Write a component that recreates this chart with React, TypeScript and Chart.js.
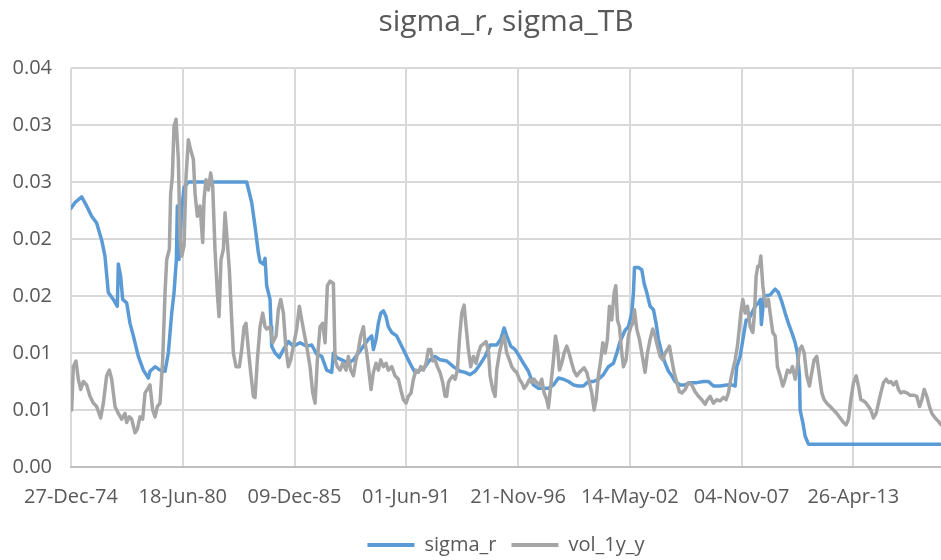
import React, { useEffect, useRef } from 'react';
import { Chart, registerables } from 'chart.js';

Chart.register(...registerables);

// x values are days since 27-Dec-1974
const xTickDays = [0, 2000, 4000, 6000, 8000, 10000, 12000, 14000];
const xTickLabels = ['27-Dec-74', '18-Jun-80', '09-Dec-85', '01-Jun-91', '21-Nov-96', '14-May-02', '04-Nov-07', '26-Apr-13'];
const yTickValues = [0, 0.005, 0.01, 0.015, 0.02, 0.025, 0.03, 0.035];
const yTickLabels = ['0.00', '0.01', '0.01', '0.02', '0.02', '0.03', '0.03', '0.04'];
const X_MAX_DAY = 15570;
const seriesLabels = ['sigma_r', 'vol_1y_y'];
const chartTitle = 'sigma_r, sigma_TB';

// sigma_r: [day, value]
const sigmaR: [number, number][] = [
  [0, 0.0227], [72, 0.0232], [191, 0.0237], [280, 0.0229], [370, 0.0220], [459, 0.0214], [549, 0.0199], [608, 0.0185], [668, 0.0153], [758, 0.0147],
  [829, 0.0141], [847, 0.0178], [889, 0.0167], [925, 0.0147], [996, 0.0144], [1056, 0.0126], [1116, 0.0115], [1205, 0.0097], [1295, 0.0085], [1384, 0.0078],
  [1414, 0.0084], [1504, 0.0088], [1593, 0.0085], [1683, 0.0084], [1742, 0.0100], [1802, 0.0135], [1844, 0.0153], [1886, 0.0182], [1903, 0.0229], [1933, 0.0182],
  [1981, 0.0226], [2023, 0.0245], [2100, 0.0250], [3144, 0.0250], [3234, 0.0232], [3294, 0.0211], [3353, 0.0188], [3383, 0.0180], [3443, 0.0178], [3473, 0.0183],
  [3502, 0.0159], [3562, 0.0147], [3580, 0.0123], [3592, 0.0106], [3652, 0.0100], [3729, 0.0096], [3801, 0.0103], [3890, 0.0110], [3980, 0.0106], [4099, 0.0109],
  [4218, 0.0106], [4308, 0.0107], [4397, 0.0099], [4487, 0.0097], [4576, 0.0085], [4666, 0.0083], [4696, 0.0100], [4755, 0.0096], [4845, 0.0094], [4964, 0.0091],
  [5054, 0.0094], [5143, 0.0100], [5233, 0.0106], [5322, 0.0112], [5382, 0.0115], [5412, 0.0103], [5459, 0.0112], [5501, 0.0126], [5543, 0.0135], [5591, 0.0137],
  [5638, 0.0132], [5680, 0.0123], [5740, 0.0118], [5829, 0.0115], [5919, 0.0106], [6008, 0.0097], [6098, 0.0088], [6158, 0.0083], [6247, 0.0085], [6337, 0.0088],
  [6426, 0.0094], [6516, 0.0097], [6605, 0.0094], [6724, 0.0093], [6844, 0.0088], [6963, 0.0084], [7053, 0.0083], [7142, 0.0081], [7232, 0.0084], [7321, 0.0090],
  [7411, 0.0097], [7500, 0.0107], [7619, 0.0107], [7691, 0.0112], [7751, 0.0122], [7798, 0.0115], [7870, 0.0106], [7948, 0.0103], [8025, 0.0097], [8097, 0.0091],
  [8186, 0.0084], [8276, 0.0072], [8365, 0.0069], [8455, 0.0069], [8544, 0.0069], [8634, 0.0072], [8723, 0.0078], [8813, 0.0077], [8902, 0.0075], [8992, 0.0072],
  [9081, 0.0071], [9171, 0.0071], [9260, 0.0075], [9350, 0.0075], [9439, 0.0077], [9529, 0.0081], [9618, 0.0088], [9708, 0.0091], [9768, 0.0100], [9827, 0.0110],
  [9917, 0.0120], [9976, 0.0123], [10036, 0.0135], [10066, 0.0153], [10084, 0.0175], [10155, 0.0175], [10215, 0.0173], [10257, 0.0161], [10304, 0.0153], [10364, 0.0141],
  [10424, 0.0138], [10471, 0.0126], [10513, 0.0112], [10573, 0.0100], [10633, 0.0091], [10692, 0.0084], [10752, 0.0080], [10812, 0.0075], [10901, 0.0072], [10991, 0.0072],
  [11080, 0.0074], [11199, 0.0074], [11319, 0.0075], [11408, 0.0075], [11498, 0.0071], [11617, 0.0071], [11736, 0.0072], [11826, 0.0072], [11886, 0.0071], [11915, 0.0088],
  [11975, 0.0097], [12035, 0.0115], [12083, 0.0129], [12124, 0.0129], [12184, 0.0135], [12244, 0.0141], [12303, 0.0144], [12340, 0.0147], [12355, 0.0125], [12400, 0.0149],
  [12422, 0.0150], [12512, 0.0151], [12602, 0.0156], [12661, 0.0153], [12721, 0.0145], [12781, 0.0135], [12840, 0.0126], [12900, 0.0118], [12960, 0.0109], [13001, 0.0100],
  [13037, 0.0080], [13049, 0.0050], [13097, 0.0039], [13139, 0.0027], [13198, 0.0020], [15570, 0.0020],
];

// vol_1y_y: [day, value]
const vol1y: [number, number][] = [
  [12, 0.0050], [42, 0.0088], [89, 0.0093], [131, 0.0077], [173, 0.0068], [221, 0.0075], [280, 0.0072], [340, 0.0062], [400, 0.0056], [459, 0.0053],
  [531, 0.0043], [579, 0.0056], [638, 0.0080], [686, 0.0085], [728, 0.0077], [788, 0.0053], [847, 0.0047], [907, 0.0042], [967, 0.0047], [996, 0.0039],
  [1044, 0.0044], [1086, 0.0042], [1146, 0.0030], [1187, 0.0033], [1235, 0.0044], [1283, 0.0042], [1325, 0.0065], [1366, 0.0068], [1414, 0.0072], [1462, 0.0050],
  [1504, 0.0044], [1545, 0.0053], [1593, 0.0056], [1641, 0.0094], [1683, 0.0153], [1713, 0.0182], [1760, 0.0191], [1784, 0.0240], [1814, 0.0255], [1844, 0.0299],
  [1880, 0.0305], [1921, 0.0270], [1951, 0.0202], [1981, 0.0185], [2023, 0.0194], [2059, 0.0255], [2100, 0.0287], [2142, 0.0278], [2190, 0.0270], [2220, 0.0240],
  [2261, 0.0220], [2309, 0.0229], [2357, 0.0197], [2381, 0.0235], [2416, 0.0252], [2458, 0.0243], [2500, 0.0258], [2536, 0.0246], [2577, 0.0191], [2619, 0.0153],
  [2649, 0.0132], [2685, 0.0182], [2727, 0.0191], [2757, 0.0223], [2786, 0.0205], [2834, 0.0173], [2876, 0.0129], [2906, 0.0100], [2953, 0.0088], [3013, 0.0088],
  [3055, 0.0103], [3097, 0.0123], [3132, 0.0126], [3174, 0.0103], [3216, 0.0083], [3264, 0.0062], [3294, 0.0061], [3335, 0.0094], [3383, 0.0123], [3431, 0.0135],
  [3473, 0.0123], [3502, 0.0121], [3562, 0.0123], [3610, 0.0109], [3670, 0.0115], [3711, 0.0138], [3753, 0.0147], [3801, 0.0135], [3848, 0.0103], [3890, 0.0088],
  [3932, 0.0094], [3980, 0.0106], [4039, 0.0121], [4087, 0.0141], [4129, 0.0129], [4171, 0.0118], [4218, 0.0106], [4278, 0.0088], [4326, 0.0065], [4368, 0.0056],
  [4409, 0.0094], [4457, 0.0123], [4505, 0.0126], [4547, 0.0109], [4588, 0.0159], [4636, 0.0163], [4696, 0.0161], [4726, 0.0094], [4767, 0.0088], [4815, 0.0085],
  [4863, 0.0091], [4922, 0.0085], [4964, 0.0097], [5006, 0.0085], [5054, 0.0080], [5101, 0.0094], [5143, 0.0103], [5185, 0.0115], [5233, 0.0123], [5263, 0.0109],
  [5292, 0.0100], [5334, 0.0083], [5370, 0.0068], [5412, 0.0083], [5459, 0.0091], [5501, 0.0085], [5543, 0.0094], [5591, 0.0088], [5638, 0.0091], [5680, 0.0085],
  [5740, 0.0088], [5800, 0.0080], [5859, 0.0077], [5901, 0.0068], [5949, 0.0059], [5996, 0.0056], [6038, 0.0062], [6086, 0.0065], [6128, 0.0077], [6175, 0.0085],
  [6217, 0.0083], [6259, 0.0088], [6307, 0.0085], [6354, 0.0091], [6396, 0.0103], [6438, 0.0103], [6474, 0.0093], [6516, 0.0094], [6557, 0.0088], [6605, 0.0083],
  [6653, 0.0074], [6695, 0.0062], [6724, 0.0062], [6754, 0.0074], [6784, 0.0077], [6832, 0.0080], [6874, 0.0077], [6915, 0.0085], [6951, 0.0112], [6993, 0.0135],
  [7035, 0.0142], [7071, 0.0123], [7112, 0.0103], [7154, 0.0088], [7202, 0.0097], [7250, 0.0091], [7291, 0.0100], [7333, 0.0106], [7381, 0.0108], [7428, 0.0110],
  [7470, 0.0102], [7500, 0.0080], [7548, 0.0068], [7590, 0.0062], [7619, 0.0085], [7667, 0.0100], [7709, 0.0109], [7751, 0.0115], [7798, 0.0100], [7846, 0.0094],
  [7888, 0.0088], [7930, 0.0085], [7977, 0.0083], [8025, 0.0077], [8067, 0.0074], [8109, 0.0069], [8156, 0.0072], [8204, 0.0077], [8246, 0.0074], [8288, 0.0077],
  [8335, 0.0074], [8383, 0.0072], [8425, 0.0077], [8467, 0.0065], [8514, 0.0059], [8544, 0.0052], [8586, 0.0071], [8634, 0.0094], [8670, 0.0115], [8705, 0.0106],
  [8741, 0.0085], [8783, 0.0091], [8825, 0.0100], [8872, 0.0106], [8914, 0.0100], [8962, 0.0091], [9004, 0.0084], [9051, 0.0080], [9099, 0.0083], [9141, 0.0085],
  [9183, 0.0087], [9230, 0.0083], [9278, 0.0074], [9320, 0.0065], [9362, 0.0050], [9397, 0.0059], [9439, 0.0080], [9481, 0.0094], [9517, 0.0109], [9559, 0.0100],
  [9600, 0.0112], [9636, 0.0141], [9678, 0.0129], [9720, 0.0153], [9750, 0.0159], [9780, 0.0129], [9815, 0.0123], [9827, 0.0117], [9857, 0.0100], [9887, 0.0088],
  [9934, 0.0094], [9976, 0.0115], [10018, 0.0123], [10054, 0.0126], [10084, 0.0138], [10125, 0.0121], [10173, 0.0112], [10215, 0.0100], [10257, 0.0088], [10274, 0.0083],
  [10316, 0.0100], [10364, 0.0112], [10412, 0.0121], [10453, 0.0115], [10495, 0.0106], [10543, 0.0097], [10591, 0.0094], [10633, 0.0100], [10674, 0.0103], [10710, 0.0106],
  [10752, 0.0094], [10794, 0.0083], [10841, 0.0074], [10889, 0.0066], [10931, 0.0065], [10991, 0.0068], [11050, 0.0074], [11110, 0.0072], [11170, 0.0066], [11229, 0.0062],
  [11289, 0.0059], [11349, 0.0055], [11390, 0.0059], [11438, 0.0062], [11498, 0.0056], [11557, 0.0059], [11617, 0.0058], [11677, 0.0061], [11724, 0.0059], [11766, 0.0065],
  [11808, 0.0077], [11844, 0.0085], [11886, 0.0094], [11927, 0.0106], [11963, 0.0123], [11987, 0.0135], [12023, 0.0147], [12065, 0.0135], [12106, 0.0141], [12154, 0.0123],
  [12202, 0.0118], [12232, 0.0135], [12261, 0.0167], [12291, 0.0176], [12321, 0.0176], [12345, 0.0185], [12381, 0.0159], [12405, 0.0150], [12440, 0.0141], [12482, 0.0147],
  [12512, 0.0135], [12560, 0.0118], [12602, 0.0115], [12643, 0.0088], [12691, 0.0080], [12739, 0.0071], [12781, 0.0077], [12822, 0.0085], [12870, 0.0083], [12912, 0.0088],
  [12960, 0.0077], [13001, 0.0088], [13037, 0.0103], [13079, 0.0106], [13121, 0.0100], [13168, 0.0080], [13216, 0.0071], [13258, 0.0083], [13300, 0.0094], [13347, 0.0097],
  [13395, 0.0080], [13437, 0.0065], [13479, 0.0059], [13526, 0.0056], [13586, 0.0053], [13646, 0.0050], [13705, 0.0047], [13765, 0.0043], [13825, 0.0039], [13872, 0.0037],
  [13914, 0.0042], [13956, 0.0059], [14004, 0.0074], [14052, 0.0080], [14093, 0.0071], [14135, 0.0059], [14183, 0.0058], [14231, 0.0056], [14272, 0.0053], [14314, 0.0050],
  [14362, 0.0043], [14410, 0.0047], [14451, 0.0056], [14493, 0.0065], [14541, 0.0074], [14589, 0.0077], [14630, 0.0074], [14672, 0.0075], [14720, 0.0072], [14768, 0.0075],
  [14809, 0.0068], [14851, 0.0065], [14899, 0.0066], [14958, 0.0065], [15018, 0.0063], [15078, 0.0063], [15137, 0.0062], [15185, 0.0053], [15227, 0.0059], [15269, 0.0068],
  [15316, 0.0062], [15364, 0.0053], [15406, 0.0047], [15466, 0.0043], [15525, 0.0040], [15570, 0.0037],
];

const BLUE = '#5B9BD5';
const GRAY = '#A5A5A5';
const TEXT = '#595959';
const GRID = '#D9D9D9';

export default function App() {
  const ref = useRef<HTMLCanvasElement>(null);

  useEffect(() => {
    const canvas = ref.current;
    if (!canvas) return;
    Chart.defaults.font.family = "'Open Sans', sans-serif";
    Chart.defaults.color = TEXT;
    const defaultGen = Chart.defaults.plugins.legend.labels.generateLabels;

    const chart = new Chart(canvas, {
      type: 'line',
      data: {
        datasets: [
          {
            label: seriesLabels[0],
            data: sigmaR.map(([x, y]) => ({ x, y })),
            borderColor: BLUE,
            backgroundColor: BLUE,
            borderWidth: 3.5,
            pointRadius: 0,
            tension: 0,
            borderJoinStyle: 'round',
            borderCapStyle: 'round',
            order: 1,
          },
          {
            label: seriesLabels[1],
            data: vol1y.map(([x, y]) => ({ x, y })),
            borderColor: GRAY,
            backgroundColor: GRAY,
            borderWidth: 3.5,
            pointRadius: 0,
            tension: 0,
            borderJoinStyle: 'round',
            borderCapStyle: 'round',
            order: 0,
          },
        ],
      },
      options: {
        responsive: false,
        animation: false,
        layout: { padding: 0 },
        scales: {
          x: {
            type: 'linear',
            min: 0,
            max: X_MAX_DAY,
            afterBuildTicks: (s: any) => {
              s.ticks = xTickDays.map((v) => ({ value: v }));
            },
            afterFit: (s: any) => {
              s.height = 53;
            },
            ticks: {
              autoSkip: false,
              maxRotation: 0,
              minRotation: 0,
              padding: 18,
              color: TEXT,
              font: { size: 20 },
              callback: (_v: any, i: number) => xTickLabels[i],
            },
            grid: { color: GRID, lineWidth: 2, drawTicks: false },
            border: { display: true, color: '#BFBFBF', width: 2 },
          },
          y: {
            min: 0,
            max: 0.035,
            afterBuildTicks: (s: any) => {
              s.ticks = yTickValues.map((v) => ({ value: v }));
            },
            afterFit: (s: any) => {
              s.width = 71;
            },
            ticks: {
              padding: 19,
              color: TEXT,
              font: { size: 20 },
              callback: (_v: any, i: number) => yTickLabels[i],
            },
            grid: { color: GRID, lineWidth: 2, drawTicks: false },
            border: { display: false },
          },
        },
        plugins: {
          title: {
            display: true,
            text: chartTitle,
            fullSize: false,
            color: TEXT,
            font: { size: 30, weight: 'normal' },
            padding: { top: 4, bottom: 28 },
          },
          legend: {
            position: 'bottom',
            fullSize: false,
            labels: {
              boxWidth: 47,
              boxHeight: 4,
              padding: 15,
              color: TEXT,
              font: { size: 20 },
              sort: (a: any, b: any) => a.datasetIndex - b.datasetIndex,
              generateLabels: (c: any) =>
                defaultGen(c).map((l: any) => ({ ...l, lineWidth: 0 })),
            },
          },
          tooltip: { enabled: false },
        },
      } as any,
    });
    return () => chart.destroy();
  }, []);

  return (
    <div
      style={{
        position: 'fixed',
        left: 0,
        top: 0,
        width: 941,
        height: 560,
        overflow: 'hidden',
        background: '#ffffff',
      }}
    >
      <canvas ref={ref} width={941} height={565} style={{ display: 'block' }} />
    </div>
  );
}
